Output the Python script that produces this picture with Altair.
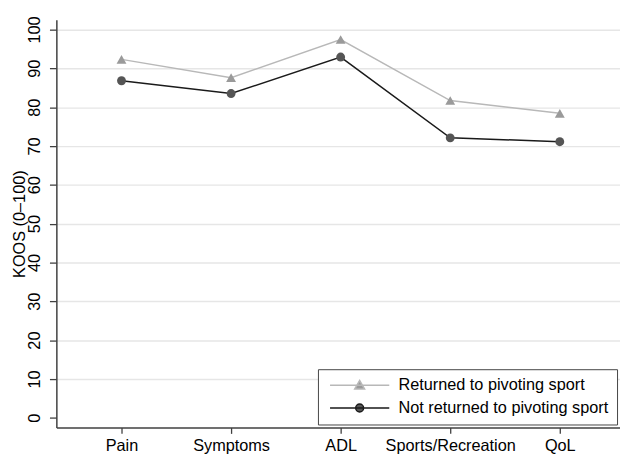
import altair as alt
import pandas as pd
import json

categories = ["Pain", "Symptoms", "ADL", "Sports/Recreation", "QoL"]
groups = ["Returned to pivoting sport", "Not returned to pivoting sport"]
returned = [92.3, 87.6, 97.4, 81.7, 78.4]
not_returned = [86.8, 83.5, 92.9, 72.1, 71.1]
y_ticks = [0, 10, 20, 30, 40, 50, 60, 70, 80, 90, 100]

line_colors = ["#b8b8b8", "#1a1a1a"]
marker_colors = ["#9a9a9a", "#555555"]
marker_shapes = ["triangle-up", "circle"]
marker_sizes = [100, 81]

rows = []
for i, (c, a, b) in enumerate(zip(categories, returned, not_returned), start=1):
    rows.append({"pos": i, "domain": c, "group": groups[0], "score": a})
    rows.append({"pos": i, "domain": c, "group": groups[1], "score": b})
df = pd.DataFrame(rows)

FONT = "Liberation Sans"
FS = 16.5
AXC = "#404040"
cat_js = json.dumps(categories)

x_enc = alt.X(
    "pos:Q",
    scale=alt.Scale(domain=[0.4054, 5.5495], nice=False, zero=False),
    axis=alt.Axis(
        values=list(range(1, len(categories) + 1)),
        labelExpr=f"{cat_js}[datum.value - 1]",
        title=None, labelAngle=0, tickSize=6, labelPadding=4, grid=False,
        domainColor=AXC, tickColor=AXC, domainWidth=1.5, tickWidth=1.3,
        labelFont=FONT, labelFontSize=FS, labelColor="black", labelFlush=False,
    ),
)
y_enc = alt.Y(
    "score:Q",
    scale=alt.Scale(domain=[-2.5, 102.5], nice=False, zero=False),
    axis=alt.Axis(
        values=y_ticks, title="KOOS (0\u2013100)", tickSize=7, labelAngle=270,
        labelAlign="center", labelBaseline="alphabetic", labelPadding=10,
        labelFont=FONT, labelFontSize=FS, labelColor="black",
        titleFont=FONT, titleFontSize=FS, titleFontWeight="normal", titleColor="black",
        titleAngle=270, titleAlign="center", titleBaseline="alphabetic",
        titleX=-32, titleY=206.5,
        domainColor=AXC, tickColor=AXC, domainWidth=1.5, tickWidth=1.3,
        grid=True, gridColor="#e6e6e6", gridWidth=1.5,
        gridOpacity=alt.ExprRef("datum.value === 0 ? 0 : 1"),
    ),
)

tri_path = "M-1,0L14,0M5.25,0.95L7.75,0.95L6.5,-1.2Z"
circ_path = "M-1,0L14,0M5.5,0A1,1,0,1,1,7.5,0A1,1,0,1,1,5.5,0Z"
is_first = f"datum.value === '{groups[0]}'"

legend = alt.Legend(
    title=None, orient="none", legendX=265, legendY=354, direction="vertical",
    symbolSize=64, symbolStrokeWidth=1.5, labelOffset=57,
    symbolType=alt.ExprRef(f"{is_first} ? '{tri_path}' : '{circ_path}'"),
    symbolFillColor=alt.ExprRef(f"{is_first} ? '{marker_colors[0]}' : '{marker_colors[1]}'"),
    labelExpr="datum.label + '\u00a0\u00a0\u00a0\u00a0\u00a0'",
    labelFont=FONT, labelFontSize=FS, labelColor="black", labelLimit=400,
    padding=8, rowPadding=6, strokeColor="#444444", fillColor="white",
)

lines = alt.Chart(df).mark_line(strokeWidth=1.5).encode(
    x=x_enc,
    y=y_enc,
    color=alt.Color("group:N", scale=alt.Scale(domain=groups, range=line_colors), legend=legend),
)

point_layers = []
for g, col, shp, sz in zip(groups, marker_colors, marker_shapes, marker_sizes):
    point_layers.append(
        alt.Chart(df)
        .transform_filter(alt.datum.group == g)
        .mark_point(filled=True, opacity=1, strokeWidth=0, fill=col, shape=shp, size=sz)
        .encode(x=x_enc, y=y_enc)
    )

chart = (
    alt.layer(lines, *point_layers)
    .properties(
        width=571, height=413,
        autosize=alt.AutoSizeParams(type="none"),
        padding={"left": 49, "top": 9, "right": 0, "bottom": 28},
        background="white",
    )
    .configure(font=FONT)
    .configure_view(strokeWidth=0)
    .configure_axisX(grid=False)
)

chart.save("out.html", embed_options={"renderer": "svg", "actions": False})
